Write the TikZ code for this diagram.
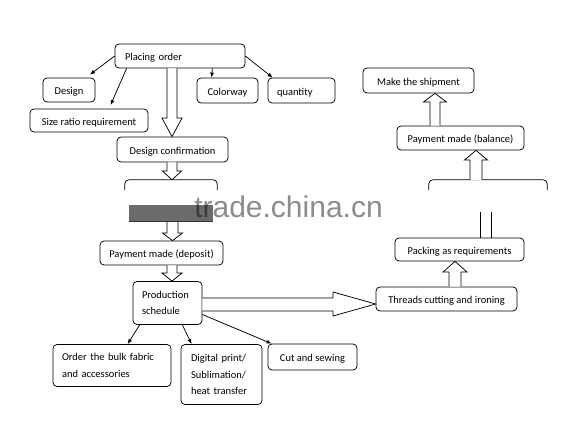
\documentclass[tikz,border=0pt]{standalone}
\usepackage{fontspec}
\setmainfont{Carlito}
\usetikzlibrary{calc,arrows.meta}
\newcommand\varrow[6]{%
\draw[openarr] let \p1=(#1), \p2=(#2) in (#3pt-#4pt,\y1) -- (#3pt-#4pt,-#6pt) -- (#3pt-#5pt,-#6pt) -- (#3pt,\y2) -- (#3pt+#5pt,-#6pt) -- (#3pt+#4pt,-#6pt) -- (#3pt+#4pt,\y1);}
\begin{document}
\begin{tikzpicture}[x=1pt,y=-1pt,
  line/.style={draw=black,line width=0.75pt},
  box/.style={line,rounded corners=4pt,inner sep=0pt,font=\fontsize{10.5}{16.5}\selectfont},
  one/.style={box,text height=9pt,text depth=0pt},
  openarr/.style={line,fill=white,line join=miter},
  arr/.style={line,-{Latex[length=5pt,width=4pt]}}]
\useasboundingbox[fill=white] (0,0) rectangle (575,428);
% top boxes
\node[one,minimum width=130pt,minimum height=24pt,text width=110pt,align=left] (po) at (180,56) {Placing order};
\node[one,minimum width=52pt,minimum height=24pt,align=center] (des) at (69,90) {Design};
\node[one,minimum width=118pt,minimum height=23pt,align=center] (size) at (89,120.5) {Size ratio requirement};
\node[one,minimum width=61pt,minimum height=25pt,align=center] (col) at (227.5,90.5) {Colorway};
\node[one,minimum width=67pt,minimum height=25pt,text width=49pt,align=left] (qty) at (301.5,90.5) {quantity};
\node[one,minimum width=111pt,minimum height=25pt,align=center] (dc) at (172.5,149.5) {Design confirmation};
% hidden boxes (covered by watermark)
\node[inner sep=0pt,minimum width=92pt,minimum height=42pt] (h1) at (171,201) {};
\node[inner sep=0pt,minimum width=118pt,minimum height=42pt] (h2) at (488,201) {};
\draw[line,rounded corners=4pt] let \p1=(h1.north west), \p2=(h1.north east) in (\x1,-190pt) -- (\x1,\y1) -- (\x2,\y1) -- (\x2,-190pt);
\draw[line,rounded corners=4pt] let \p1=(h2.north west), \p2=(h2.north east) in (\x1,-190pt) -- (\x1,\y1) -- (\x2,\y1) -- (\x2,-190pt);
\fill[black!58] (129,205) rectangle (213,221);
\draw[black!80,line width=0.8pt] (129,221.5) -- (213,221.5);
% middle / lower left
\node[one,minimum width=123pt,minimum height=24pt,align=center] (dep) at (161.5,253) {Payment made (deposit)};
\node[box,minimum width=69pt,minimum height=43pt,text width=51pt,align=left] (prod) at (167.5,303) {Production\\schedule};
\node[box,minimum width=118pt,minimum height=42pt,text width=100pt,align=left] (bulk) at (112,365.5) {\makebox[100pt][s]{Order the bulk fabric}\\and accessories};
\node[box,minimum width=81pt,minimum height=60pt,text width=61pt,align=left] (dig) at (221.5,374.5) {Digital print/\\Sublimation/\\heat transfer};
\node[one,minimum width=89pt,minimum height=26pt,align=center] (cut) at (312.5,357) {Cut and sewing};
% right column
\node[one,minimum width=141pt,minimum height=24pt,align=center] (tc) at (446.5,299) {Threads cutting and ironing};
\node[one,minimum width=129pt,minimum height=23pt,align=center] (pack) at (459.5,249.5) {Packing as requirements};
\node[one,minimum width=127pt,minimum height=24pt,align=center] (bal) at (460.5,138) {Payment made (balance)};
\node[one,minimum width=111pt,minimum height=25pt,align=center] (ship) at (418.5,80.5) {Make the shipment};
% open arrows
\varrow{po.south}{dc.north}{172}{5}{10}{118}
\varrow{dc.south}{h1.north}{172}{5}{9.5}{171}
\varrow{h1.south}{dep.north}{172.5}{5.5}{10}{233}
\varrow{dep.south}{prod.north}{172}{5}{10}{273}
\varrow{tc.north}{pack.south}{455}{6}{12}{272}
\varrow{h2.north}{bal.south}{476}{6}{11.5}{160}
\varrow{bal.north}{ship.south}{435}{5}{11.5}{102}
\draw[openarr] let \p1=(prod.east), \p2=(tc.west) in (\x1,-298pt) -- (333pt,-298pt) -- (333pt,-292pt) -- (\x2,-304pt) -- (333pt,-316pt) -- (333pt,-311pt) -- (\x1,-311pt);
\draw[line] let \p1=(pack.north) in (480pt,\y1) -- (480pt,-212pt);
\draw[line] let \p1=(pack.north) in (491pt,\y1) -- (491pt,-212pt);
% thin arrows
\draw[arr,shorten >=5pt] (po.west) -- ($(des.north)+(17,0)$);
\draw[arr,shorten >=4pt] ($(po.south west)+(12,0)$) -- ($(size.north)+(20,0)$);
\draw[arr] ($(po.south east)+(-33,0)$) -- ($(col.north west)+(15,0)$);
\draw[arr] (po.east) -- ($(qty.north west)+(5,0)$);
\draw[arr] ($(prod.south west)+(7,0)$) -- ($(bulk.north west)+(75,0)$);
\draw[arr] ($(prod.south east)+(-20,0)$) -- ($(dig.north west)+(11,0)$);
\draw[arr] ($(prod.east)+(0,11.5)$) -- ($(cut.north west)+(4,0)$);
% watermark
\node[font=\fontspec{Liberation Sans}\fontsize{30}{30}\selectfont,text=black,opacity=0.45,inner sep=0pt] (wm) at (288.5,207) {trade.china.cn};
\end{tikzpicture}
\end{document}
